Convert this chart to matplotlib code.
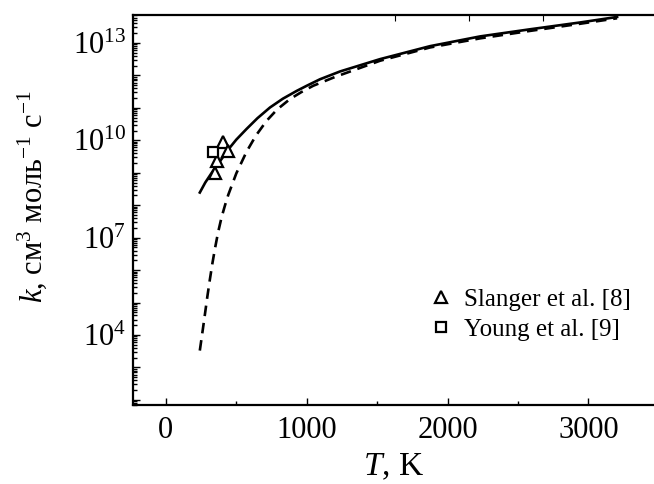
import numpy as np
import matplotlib
matplotlib.use('Agg')
import matplotlib.pyplot as plt
from matplotlib.ticker import LogLocator, FuncFormatter, FixedLocator, NullFormatter

plt.rcParams['font.family'] = ['Liberation Serif', 'DejaVu Serif']
plt.rcParams['mathtext.fontset'] = 'custom'
plt.rcParams['mathtext.rm'] = 'Liberation Serif'
plt.rcParams['mathtext.it'] = 'Liberation Serif:italic'

# solid curve (log10 k)
T_solid = [241, 280, 335, 400, 455, 500, 573, 650, 739, 830, 928, 1000, 1094, 1236,
           1520, 1875, 2230, 2585, 2940, 3203]
logk_solid = [8.39, 8.7, 9.06, 9.45, 9.78, 10.02, 10.35, 10.68, 11.01, 11.28, 11.52, 11.68, 11.88, 12.12,
              12.5, 12.9, 13.2, 13.42, 13.63, 13.8]

# dashed curve (log10 k)
T_dash = [241, 260, 277, 295, 312, 330, 348, 370, 395, 420, 443, 500, 573, 640, 715, 790,
          881, 960, 1046, 1200, 1520, 1875, 2230, 2585, 2940, 3203]
logk_dash = [3.52, 4.1, 4.63, 5.2, 5.7, 6.2, 6.65, 7.15, 7.62, 8.0, 8.32, 8.98, 9.65, 10.15, 10.6, 10.95,
             11.27, 11.48, 11.68, 11.95, 12.45, 12.86, 13.14, 13.37, 13.59, 13.76]

# experiments
T_slanger = [350, 362, 405, 440]
logk_slanger = [9.0, 9.37, 9.95, 9.68]
T_young = [335]
logk_young = [9.65]

fig = plt.figure(figsize=(6.54, 4.84), dpi=100)
ax = fig.add_axes([0.203, 0.163, 0.797, 0.806])

ax.plot(T_solid, 10 ** np.array(logk_solid), '-', color='k', lw=1.9)
ax.plot(T_dash, 10 ** np.array(logk_dash), '--', color='k', lw=1.9, dashes=(4, 2.6))
ax.plot(T_slanger, 10 ** np.array(logk_slanger), '^', ms=8, mfc='white', mec='k', mew=1.6,
        ls='none', label='Slanger et al. [8]')
ax.plot(T_young, 10 ** np.array(logk_young), 's', ms=7, mfc='white', mec='k', mew=1.6,
        ls='none', label='Young et al. [9]')

ax.set_yscale('log')
ax.set_xlim(-235, 3465)
ax.set_ylim(10 ** 1.84, 10 ** 13.86)

ax.xaxis.set_major_locator(FixedLocator([0, 1000, 2000, 3000]))
ax.xaxis.set_minor_locator(FixedLocator([500, 1500, 2500]))
ax.yaxis.set_major_locator(LogLocator(base=10, numticks=30))
ax.yaxis.set_minor_locator(LogLocator(base=10, subs=np.arange(2, 10), numticks=30))
ax.yaxis.set_minor_formatter(NullFormatter())


def fmt(v, pos):
    e = int(round(np.log10(v)))
    if e in (4, 7, 10, 13):
        return r'$10^{%d}$' % e
    return ''


ax.yaxis.set_major_formatter(FuncFormatter(fmt))

ax.tick_params(which='both', direction='in', labelsize=22, width=1.0)
ax.tick_params(which='major', length=5)
ax.tick_params(which='minor', length=3)
ax.tick_params(axis='y', which='major', pad=5)
ax.tick_params(axis='x', which='major', pad=8)

ax.spines['right'].set_visible(False)
for s in ('left', 'bottom', 'top'):
    ax.spines[s].set_linewidth(1.6)

top = ax.secondary_xaxis('top')
top.set_xticks([1626, 2152, 2677])
top.tick_params(direction='in', length=4, labeltop=False)
top.spines['top'].set_visible(False)

ax.set_xlabel(r'$T$, K', fontsize=24, labelpad=5)
ax.set_ylabel(r'$k$, см$^{3}$ моль$^{-1}$ с$^{-1}$', fontsize=22)
ax.yaxis.set_label_coords(-0.160, 0.536)

ax.legend(loc='lower right', bbox_to_anchor=(0.99, 0.12), frameon=False, fontsize=18,
          handletextpad=0.45, labelspacing=0.3, borderaxespad=0.3, handlelength=1.0)

fig.savefig('out.png', dpi=100)
